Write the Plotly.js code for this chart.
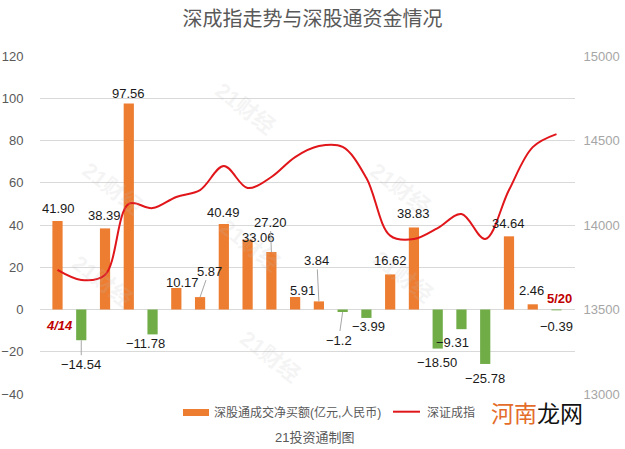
<!DOCTYPE html>
<html><head><meta charset="utf-8">
<script src="https://cdn.plot.ly/plotly-3.0.1.min.js"></script>
<style>html,body{margin:0;padding:0;background:#fff}#chart{width:625px;height:449px}</style>
</head><body><div id="chart"></div>
<script>
const dates = ['4/14','4/15','4/16','4/19','4/20','4/21','4/22','4/23','4/26','4/27','4/28','4/29','4/30','5/6','5/7','5/10','5/11','5/12','5/13','5/14','5/17','5/20'];
const netBuy = [41.90,-14.54,38.39,97.56,-11.78,10.17,5.87,40.49,33.06,27.20,5.91,3.84,-1.2,-3.99,16.62,38.83,-18.50,-9.31,-25.78,34.64,2.46,-0.39];
const netBuyText = ['41.90','−14.54','38.39','97.56','−11.78','10.17','5.87','40.49','33.06','27.20','5.91','3.84','−1.2','−3.99','16.62','38.83','−18.50','−9.31','−25.78','34.64','2.46','−0.39'];
const szIndex = [13734,13675,13704,14125,14100,14166,14207,14349,14219,14284,14402,14467,14462,14278,13937,13917,13982,14065,13917,14207,14461,14538];
const leftTicks = [-40,-20,0,20,40,60,80,100,120];
const rightTicks = [13000,13500,14000,14500,15000];
const barName = '深股通成交净买额(亿元,人民币)';
const lineName = '深证成指';
const titleText = '深成指走势与深股通资金情况';
const sourceText = '21投资通制图';

// label offsets in pixels [dx, dy, leader]
const labelOffsets = [[1,-12,0],[0,24,1],[-1,-13,0],[0,-10,0],[-7,9,0],[6,-6,0],[9,-26,1],[0,-11,0],[11,-2,0],[-1,-30,1],[7,-7,0],[-2,-41,1],[-4,28,1],[2,9,0],[0,-14,0],[0,-14,0],[-1,14,0],[-9,13,0],[0,15,0],[0,-13,0],[-1,-14,0],[0,16,0]];

const FONT = 'Liberation Sans, Arial, Noto Sans CJK SC, sans-serif';
const orange = '#ED7D31', green = '#70AD47', red = '#E0161B';

const bar = {
  type:'bar', x:dates, y:netBuy, name:barName, width:0.43,
  marker:{color:netBuy.map(v=>v>=0?orange:green)}, hoverinfo:'skip', showlegend:false
};
const line = {
  type:'scatter', mode:'lines', x:dates, y:szIndex, yaxis:'y2', name:lineName,
  line:{color:red, width:2, shape:'spline', smoothing:1}, hoverinfo:'skip', showlegend:false
};

const ann = [];
const px = x => (x-40)/535, py = y => (394-y)/338;
[[245,75],[75,155],[437,155],[250,245],[65,315],[440,310],[270,390]].forEach(p=>{
  ann.push({xref:'paper', yref:'paper', x:px(p[0]), y:py(p[1]), text:'<b>21财经</b>', showarrow:false, textangle:38, font:{family:FONT,size:22,color:'rgba(190,190,190,0.16)'}});
});
netBuy.forEach((v,i)=>{
  const o = labelOffsets[i];
  const a = {x:dates[i], y:v, xref:'x', yref:'y', text:netBuyText[i],
    font:{family:FONT,size:13,color:'#1a1a1a'}};
  if(o[2]){
    Object.assign(a,{showarrow:true, ax:o[0], ay:o[1], arrowhead:0, arrowwidth:1, arrowcolor:'#a6a6a6', standoff:0, startstandoff:0});
  } else {
    Object.assign(a,{showarrow:false, xshift:o[0], yshift:-o[1]});
  }
  ann.push(a);
});
ann.push({x:dates[0], y:0, xref:'x', yref:'y', text:'<b><i>'+dates[0]+'</i></b>', showarrow:false, xshift:2, yshift:-16, font:{family:FONT,size:13,color:'#C00000'}});
ann.push({x:dates[dates.length-1], y:0, xref:'x', yref:'y', text:'<b>'+dates[dates.length-1]+'</b>', showarrow:false, xshift:3, yshift:11, font:{family:FONT,size:13,color:'#C00000'}});

ann.push({xref:'paper', yref:'paper', x:px(212), y:py(412.5), xanchor:'left', yanchor:'middle', text:barName, showarrow:false, font:{family:FONT,size:12,color:'#595959'}});
ann.push({xref:'paper', yref:'paper', x:px(425), y:py(412.5), xanchor:'left', yanchor:'middle', text:lineName, showarrow:false, font:{family:FONT,size:12,color:'#595959'}});
ann.push({xref:'paper', yref:'paper', x:px(315), y:py(437.5), xanchor:'center', yanchor:'middle', text:sourceText, showarrow:false, font:{family:FONT,size:13,color:'#595959'}});
ann.push({xref:'paper', yref:'paper', x:px(537), y:py(412), xanchor:'center', yanchor:'middle', text:'<span style="color:#E46C2A">河南</span>龙网', showarrow:false, font:{family:'Noto Sans CJK SC, sans-serif',size:23,color:'#111'}});

const shapes = [
  {type:'rect', xref:'paper', yref:'paper', x0:px(183), x1:px(209), y0:py(416), y1:py(409), fillcolor:orange, line:{width:0}},
  {type:'line', xref:'paper', yref:'paper', x0:px(393), x1:px(420), y0:py(411.7), y1:py(411.7), line:{color:red,width:2}}
];

const layout = {
  width:625, height:449, margin:{l:40,r:50,t:56,b:55},
  paper_bgcolor:'#fff', plot_bgcolor:'#fff', showlegend:false,
  title:{text:titleText, x:0.5, xanchor:'center', y:1-19/449, yanchor:'middle', font:{family:'Noto Sans CJK SC, sans-serif', size:20, color:'#595959'}},
  xaxis:{type:'category', showticklabels:false, showgrid:false, zeroline:false, showline:false, ticks:''},
  yaxis:{range:[-40,120], tickvals:leftTicks, showgrid:true, gridcolor:'#D9D9D9', gridwidth:1, zeroline:true, zerolinecolor:'#D9D9D9', zerolinewidth:1,
    ticks:'outside', ticklen:13, tickcolor:'rgba(0,0,0,0)', tickfont:{family:FONT,size:13,color:'#595959'}, showline:false},
  yaxis2:{range:[13000,15000], tickvals:rightTicks, tickformat:'d', overlaying:'y', side:'right', showgrid:false, zeroline:false, showline:false,
    ticks:'outside', ticklen:5, tickcolor:'rgba(0,0,0,0)', tickfont:{family:FONT,size:13,color:'#A6A6A6'}},
  annotations:ann, shapes:shapes
};
Plotly.newPlot('chart',[bar,line],layout,{displayModeBar:false,staticPlot:true});
</script></body></html>
